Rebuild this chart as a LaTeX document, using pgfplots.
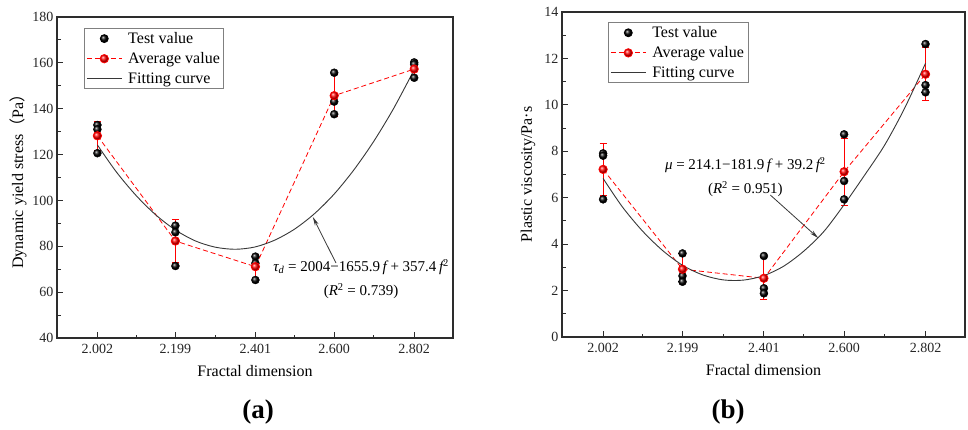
\documentclass[border=0pt]{standalone}
\usepackage{pgfplots}
\pgfplotsset{compat=1.18}
\usepackage{fontspec}
\setmainfont{Liberation Serif}
\newfontfamily\cjk{Noto Sans CJK SC}
\usetikzlibrary{arrows.meta}
\definecolor{fitgray}{RGB}{55,55,55}
\definecolor{axgray}{RGB}{45,45,45}

\pgfplotsset{
  myaxis/.style={
    scale only axis,
    anchor=south west,
    xmin=1.9, xmax=2.9,
    xtick={2.002,2.199,2.401,2.600,2.802},
    xticklabels={2.002,2.199,2.401,2.600,2.802},
    minor xtick={2.1,2.3,2.5,2.7},
    axis line style={axgray, line width=1.1pt},
    every tick/.style={axgray, line width=0.9pt},
    major tick length=6pt, minor tick length=3.5pt,
    tick align=inside,
    xtick pos=bottom, ytick pos=left,
    /pgf/number format/assume math mode=true,
    tick label style={font=\fontsize{14}{16}\selectfont, text=black!85},
    xticklabel style={yshift=-3pt},
    xlabel={Fractal dimension},
    every axis x label/.style={at={(axis description cs:0.5,-0.103)}, anchor=center, font=\fontsize{16}{19}\selectfont},
    legend style={draw=gray, line width=0.8pt, font=\fontsize{16}{19}\selectfont, anchor=north west, inner sep=2pt, row sep=3.5pt, cells={anchor=west},
      /tikz/every odd column/.style={column sep=4pt}},
    legend image code/.code={\draw[mark repeat=2,mark phase=2,##1] plot coordinates {(0pt,0pt) (17.5pt,0pt) (35pt,0pt)};},
    clip=false,
  },
  testval/.style={only marks, mark=ball, mark size=4pt, mark options={ball color=black}},
  avgval/.style={red, dash pattern=on 5pt off 3pt, line width=0.8pt, mark=ball, mark size=4.2pt, mark options={ball color=red, solid},
     error bars/.cd, y dir=both, y explicit, error bar style={draw=red, color=red, solid, line width=1pt}, error mark options={draw=red, color=red, solid, rotate=90, mark size=3.5pt, line width=1pt}},
  fitcurve/.style={fitgray, line width=0.9pt, smooth, no marks},
}

\begin{document}
\begin{tikzpicture}
\path[use as bounding box] (0,0) rectangle (968pt,429pt);

% ---------------- (a) ----------------
\begin{axis}[myaxis,
  at={(57pt,91pt)}, width=396pt, height=321pt,
  ymin=40, ymax=180, ytick={40,60,...,180}, minor ytick={50,70,...,170},
  ylabel={Dynamic yield stress{\cjk （}Pa{\cjk ）}},
  every axis y label/.style={at={(axis description cs:-0.0985,0.5)}, rotate=90, anchor=center, font=\fontsize{16}{19}\selectfont},
  legend style={at={(axis description cs:0.068,0.966)}},
]
\addplot[testval] coordinates {
 (2.002,132.9) (2.002,131.0) (2.002,120.6)
 (2.199,89.0) (2.199,86.1) (2.199,71.4)
 (2.401,75.5) (2.401,72.6) (2.401,65.3)
 (2.600,155.7) (2.600,143.1) (2.600,137.6)
 (2.802,160.2) (2.802,159.4) (2.802,153.5)};
\addlegendentry{Test value}
\addplot[avgval] coordinates {
 (2.002,128.2) +- (0,6.4)
 (2.199,82.3) +- (0,9.2)
 (2.401,71.1) +- (0,5.3)
 (2.600,145.7) +- (0,9.3)
 (2.802,157.3) +- (0,3.6)};
\addlegendentry{Average value}
\addplot[fitcurve] coordinates {
 (2.002,124.2) (2.05,112.4) (2.1,102.1) (2.15,93.6) (2.2,87.0) (2.25,82.3)
 (2.3,79.6) (2.35,78.7) (2.4,79.7) (2.45,82.7) (2.5,87.5) (2.55,94.2)
 (2.6,102.8) (2.65,113.4) (2.7,125.8) (2.75,140.1) (2.802,157.0)};
\addlegendentry{Fitting curve}
\draw[-{Stealth[length=9pt,width=4pt]}, line width=0.8pt, fitgray] (axis cs:2.6045,72.7) -- (axis cs:2.546,92.8);
\node[align=center, font=\fontsize{15}{24}\selectfont] at (axis cs:2.668,65.8)
 {{\itshape τ}\textsubscript{\itshape d} = 2004−1655.9\,{\itshape f} + 357.4\,{\itshape f}\textsuperscript{2}\\({\itshape R}\textsuperscript{2} = 0.739)};
\end{axis}

% ---------------- (b) ----------------
\begin{axis}[myaxis,
  at={(562pt,92pt)}, width=403pt, height=325pt,
  ymin=0, ymax=14, ytick={0,2,...,14}, minor ytick={1,3,...,13},
  ylabel={Plastic viscosity/Pa·s},
  every axis y label/.style={at={(axis description cs:-0.0844,0.5)}, rotate=90, anchor=center, font=\fontsize{16}{19}\selectfont},
  legend style={at={(axis description cs:0.114,0.969)}},
]
\addplot[testval] coordinates {
 (2.002,7.91) (2.002,7.81) (2.002,5.93)
 (2.199,3.60) (2.199,2.63) (2.199,2.38)
 (2.401,3.49) (2.401,2.10) (2.401,1.88)
 (2.600,8.73) (2.600,6.72) (2.600,5.93)
 (2.802,12.62) (2.802,10.85) (2.802,10.54)};
\addlegendentry{Test value}
\addplot[avgval] coordinates {
 (2.002,7.22) +- (0,1.12)
 (2.199,2.92) +- (0,0.6)
 (2.401,2.53) +- (0,0.9)
 (2.600,7.12) +- (0,1.44)
 (2.802,11.32) +- (0,1.13)};
\addlegendentry{Average value}
\addplot[fitcurve] coordinates {
 (2.002,6.83) (2.05,5.60) (2.1,4.56) (2.15,3.72) (2.2,3.08) (2.25,2.67)
 (2.3,2.46) (2.35,2.45) (2.4,2.64) (2.45,3.05) (2.5,3.70) (2.55,4.55)
 (2.6,5.70) (2.65,6.95) (2.7,8.25) (2.75,9.85) (2.802,11.79)};
\addlegendentry{Fitting curve}
\draw[-{Stealth[length=9pt,width=4pt]}, line width=0.8pt, fitgray] (axis cs:2.417,6.115) -- (axis cs:2.536,4.26);
\node[align=center, font=\fontsize{15}{24}\selectfont] at (axis cs:2.355,6.9)
 {{\itshape μ} = 214.1−181.9\,{\itshape f} + 39.2\,{\itshape f}\textsuperscript{2}\\({\itshape R}\textsuperscript{2} = 0.951)};
\end{axis}

\node[font=\bfseries\fontsize{27}{27}\selectfont] at (258pt,17pt) {(a)};
\node[font=\bfseries\fontsize{27}{27}\selectfont] at (728pt,17pt) {(b)};
\end{tikzpicture}
\end{document}
